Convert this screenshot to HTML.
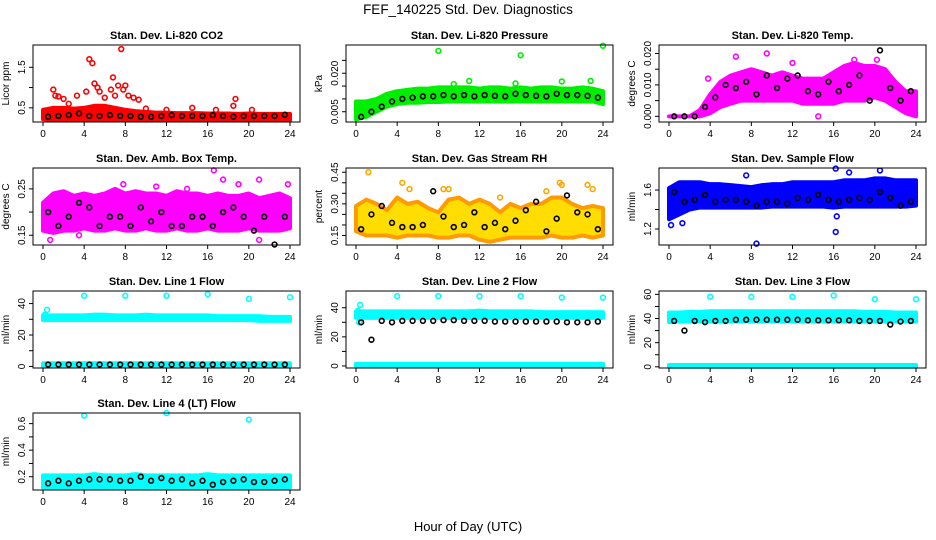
<!DOCTYPE html>
<html><head><meta charset="utf-8"><style>
html,body{margin:0;padding:0;background:#fff;}
svg{display:block;font-family:"Liberation Sans",Arial,sans-serif;}
</style></head><body>
<svg id="chart" width="936" height="540" viewBox="0 0 936 540">
<text x="468" y="14" text-anchor="middle" font-size="13.5">FEF_140225  Std. Dev. Diagnostics</text>
<text x="468" y="531" text-anchor="middle" font-size="13">Hour of Day (UTC)</text>
</svg>
<script>
const bandHours=[0,1,2,3,4,5,6,7,8,9,10,11,12,13,14,15,16,17,18,19,20,21,22,23,24];
const blackHours=[0.5,1.5,2.5,3.5,4.5,5.5,6.5,7.5,8.5,9.5,10.5,11.5,12.5,13.5,14.5,15.5,16.5,17.5,18.5,19.5,20.5,21.5,22.5,23.5];
const xTicks=[0,4,8,12,16,20,24];

const co2Lo=[0.22,0.2,0.2,0.2,0.2,0.2,0.2,0.2,0.2,0.2,0.2,0.2,0.2,0.2,0.2,0.2,0.2,0.2,0.2,0.2,0.2,0.2,0.2,0.2,0.2];
const co2Hi=[0.45,0.5,0.5,0.48,0.5,0.55,0.55,0.5,0.45,0.42,0.4,0.38,0.38,0.37,0.37,0.37,0.36,0.36,0.36,0.35,0.36,0.35,0.35,0.35,0.35];
const co2Black=[0.28,0.3,0.32,0.36,0.3,0.3,0.32,0.3,0.3,0.28,0.28,0.3,0.32,0.3,0.3,0.3,0.32,0.3,0.28,0.3,0.3,0.3,0.3,0.33];
const co2Out=[[1,0.95],[1.2,0.8],[1.5,0.78],[2,0.72],[2.5,0.6],[3.3,0.8],[4.2,0.9],[4.5,1.7],[4.8,1.6],[5,1.1],[5.3,1.0],[5.5,0.9],[6,0.75],[6.6,0.95],[6.8,1.25],[7,0.8],[7.3,1.05],[7.6,1.95],[7.8,0.95],[8,1.05],[8.3,0.8],[8.8,0.75],[9.3,0.7],[10,0.48],[12,0.45],[14.5,0.5],[16.8,0.45],[18.5,0.55],[18.7,0.72],[20.3,0.45]];

const presLo=[0.002,0.003,0.005,0.007,0.008,0.0085,0.0085,0.0088,0.0088,0.009,0.009,0.009,0.009,0.009,0.009,0.009,0.009,0.009,0.009,0.009,0.009,0.009,0.009,0.009,0.008];
const presHi=[0.009,0.009,0.010,0.012,0.013,0.0135,0.014,0.014,0.0145,0.0145,0.0145,0.0145,0.014,0.0145,0.0145,0.014,0.0145,0.014,0.0145,0.0145,0.014,0.014,0.0145,0.014,0.013];
const presBlack=[0.003,0.005,0.007,0.009,0.010,0.0105,0.011,0.011,0.0115,0.011,0.0115,0.011,0.0115,0.0112,0.011,0.012,0.0115,0.0112,0.011,0.012,0.0115,0.0115,0.0112,0.0105];
const presOut=[[8,0.0287],[16,0.027],[24,0.0307],[11,0.017],[20,0.0168],[22.8,0.017],[15.5,0.016],[9.5,0.0158]];

const tempLo=[0,0,0,0,0.001,0.003,0.004,0.005,0.005,0.005,0.005,0.005,0.005,0.004,0.004,0.004,0.004,0.005,0.005,0.005,0.006,0.005,0.003,0.001,0];
const tempHi=[0,0,0,0.002,0.007,0.011,0.013,0.014,0.015,0.014,0.013,0.014,0.013,0.012,0.012,0.012,0.014,0.016,0.017,0.016,0.016,0.015,0.011,0.008,0.008];
const tempBlack=[0,0,0,0.003,0.006,0.01,0.009,0.011,0.007,0.013,0.009,0.012,0.013,0.008,0.007,0.011,0.008,0.01,0.013,0.005,0.021,0.009,0.005,0.008];
const tempOut=[[6.5,0.019],[9.5,0.02],[12,0.017],[18,0.018],[20.2,0.018],[3.8,0.012],[14.5,0]];

const ambLo=[0.16,0.155,0.16,0.16,0.165,0.16,0.16,0.165,0.16,0.16,0.165,0.16,0.16,0.165,0.16,0.16,0.165,0.16,0.16,0.16,0.165,0.16,0.16,0.16,0.165];
const ambHi=[0.22,0.24,0.245,0.235,0.24,0.235,0.24,0.25,0.24,0.245,0.24,0.24,0.235,0.245,0.24,0.24,0.235,0.24,0.235,0.235,0.24,0.23,0.235,0.24,0.23];
const ambBlack=[0.20,0.17,0.19,0.22,0.21,0.17,0.19,0.19,0.17,0.21,0.18,0.2,0.17,0.17,0.19,0.19,0.17,0.2,0.21,0.19,0.16,0.19,0.13,0.19];
const ambOut=[[0.7,0.14],[3.5,0.15],[7.8,0.26],[11,0.255],[14,0.25],[16.6,0.29],[17.5,0.27],[21,0.27],[23.8,0.26],[19,0.26],[21,0.14]];

const rhLo=[0.17,0.15,0.15,0.15,0.14,0.15,0.15,0.15,0.14,0.14,0.15,0.15,0.13,0.12,0.13,0.14,0.14,0.14,0.14,0.15,0.14,0.14,0.15,0.14,0.15];
const rhHi=[0.29,0.32,0.3,0.27,0.33,0.3,0.31,0.28,0.26,0.32,0.33,0.3,0.32,0.3,0.26,0.3,0.28,0.3,0.3,0.33,0.33,0.3,0.28,0.29,0.28];
const rhBlack=[0.18,0.25,0.29,0.21,0.19,0.19,0.2,0.36,0.24,0.19,0.2,0.26,0.19,0.21,0.18,0.22,0.27,0.31,0.17,0.23,0.34,0.26,0.25,0.18];
const rhOut=[[1.2,0.45],[4.5,0.4],[5.2,0.37],[8.5,0.37],[9,0.37],[14,0.33],[18.5,0.36],[19.8,0.4],[20,0.39],[22.5,0.39],[23,0.37]];

const flowLo=[1.3,1.35,1.4,1.42,1.42,1.42,1.42,1.42,1.42,1.42,1.43,1.43,1.43,1.43,1.43,1.43,1.42,1.43,1.43,1.43,1.43,1.43,1.43,1.43,1.44];
const flowHi=[1.62,1.68,1.68,1.68,1.66,1.66,1.65,1.64,1.63,1.65,1.66,1.66,1.68,1.68,1.68,1.68,1.68,1.7,1.7,1.7,1.72,1.72,1.7,1.7,1.7];
const flowBlack=[1.58,1.48,1.5,1.55,1.48,1.5,1.5,1.48,1.44,1.48,1.48,1.46,1.52,1.5,1.55,1.5,1.48,1.5,1.52,1.5,1.58,1.52,1.44,1.48];
const flowOut=[[8.5,1.05],[16.2,1.17],[16.3,1.33],[16.2,1.82],[20.5,1.8],[0.2,1.24],[1.3,1.26],[7.5,1.75],[17.5,1.78]];

const l1Lo=[29.5,29.5,29.5,29.5,29.5,29.5,29.5,29.5,29.5,29.5,29.5,29.5,29.5,29.5,29.5,29.5,29.5,29.5,29.5,29.5,29.5,29,29,29,29];
const l1Hi=[32.5,32.5,32.5,32.5,32.5,33,33,32.5,32.5,32.5,33,32.5,32.5,32.5,32.5,32.5,32.5,32,32,32,32,32,31.5,31.5,31.5];
const l1BaseLo=[0,0,0,0,0,0,0,0,0,0,0,0,0,0,0,0,0,0,0,0,0,0,0,0,0];
const l1BaseHi=[2,2,2,2,2,2,2,2,2,2,2,2,2,2,2,2,2,2,2,2,2,2,2,2,2];
const l1Black=[1.2,1.2,1.2,1.2,1.2,1.2,1.2,1.2,1.2,1.2,1.2,1.2,1.2,1.2,1.2,1.2,1.2,1.2,1.2,1.2,1.2,1.2,1.2,1.2];
const l1Out=[[0.2,33],[0.4,36],[4,45],[8,45],[12,45],[16,46],[20,43],[24,44]];

const l2Lo=[33,33,33,33,33,33,33,33,33,33,33,33,33,33,33,33,33,33,33,33,33,33,33,33,33];
const l2Hi=[37.5,37.5,37.5,37.5,37.5,37.5,37.5,37.5,37.5,37.5,37.5,37.5,38,37.5,37.5,37.5,37.5,37.5,37,37,37,37,37,37,37];
const l2BaseLo=[0,0,0,0,0,0,0,0,0,0,0,0,0,0,0,0,0,0,0,0,0,0,0,0,0];
const l2BaseHi=[1.5,1.5,1.5,1.5,1.5,1.5,1.5,1.5,1.5,1.5,1.5,1.5,1.5,1.5,1.5,1.5,1.5,1.5,1.5,1.5,1.5,1.5,1.5,1.5,1.5];
const l2Black=[30,18,31,30,31,31,31,31,31.5,31.5,31,31,31,30.5,30.5,30.5,30.5,30.5,30.5,30.5,30,30,30,30.5];
const l2Out=[[0.2,38],[0.4,42],[0.3,30],[4,48],[8,48],[12,48],[16,48],[20,47],[24,47]];

const l3Lo=[37,37.5,37.5,37.5,37.5,37.5,37.5,37.5,37.5,37.5,37.5,37.5,37.5,37.5,37.5,37.5,37.5,37.5,37.5,37.5,37.5,37.5,37.5,37.5,37.5];
const l3Hi=[45,45,45.5,45.5,46,46,46,46,46,46,46,46,46,46,46,46,46,46,46,45.5,45.5,45.5,45,45,45];
const l3BaseLo=[0,0,0,0,0,0,0,0,0,0,0,0,0,0,0,0,0,0,0,0,0,0,0,0,0];
const l3BaseHi=[1.5,1.5,1.5,1.5,1.5,1.5,1.5,1.5,1.5,1.5,1.5,1.5,1.5,1.5,1.5,1.5,1.5,1.5,1.5,1.5,1.5,1.5,1.5,1.5,1.5];
const l3Black=[38,30,38,37,38,38,39,39,39,39,39,39,39,38.5,38.5,38.5,38.5,38.5,38,38,38,35,37.5,38];
const l3Out=[[4,58],[8,58],[12,58],[16,59],[20,56],[24,56]];

const l4Lo=[0.12,0.12,0.12,0.12,0.12,0.12,0.12,0.12,0.12,0.12,0.12,0.12,0.12,0.12,0.12,0.12,0.12,0.12,0.12,0.12,0.12,0.12,0.12,0.12,0.12];
const l4Hi=[0.21,0.21,0.21,0.21,0.21,0.22,0.21,0.21,0.21,0.22,0.21,0.21,0.21,0.21,0.21,0.21,0.22,0.21,0.21,0.21,0.21,0.21,0.21,0.21,0.21];
const l4Black=[0.15,0.17,0.15,0.17,0.18,0.18,0.18,0.17,0.17,0.2,0.17,0.19,0.17,0.18,0.15,0.17,0.14,0.16,0.17,0.18,0.16,0.16,0.17,0.18];
const l4Out=[[4,0.66],[12,0.68],[20,0.63]];

const NS='http://www.w3.org/2000/svg';
const svg=document.getElementById('chart');
function mk(tag,attrs,parent){const e=document.createElementNS(NS,tag);for(const k in attrs)e.setAttribute(k,attrs[k]);(parent||svg).appendChild(e);return e;}

const colX=[33,346,659], rowY=[45,168,291,413], W=267, H=77;
const panels=[
 {key:'co2',title:'Stan. Dev. Li-820 CO2',ylab:'Licor ppm',c:0,r:0,ylim:[0.15,2.05],ticks:[0.5,1,1.5],labels:['0.5','','1.5'],col:'#ff0000',bands:[[co2Lo,co2Hi]],black:co2Black,out:co2Out},
 {key:'pressure',title:'Stan. Dev. Li-820 Pressure',ylab:'kPa',c:1,r:0,ylim:[0.001,0.031],ticks:[0.005,0.01,0.015,0.02,0.025],labels:['0.005','','','0.020',''],col:'#00ee00',bands:[[presLo,presHi]],black:presBlack,out:presOut},
 {key:'temp',title:'Stan. Dev. Li-820 Temp.',ylab:'degrees C',c:2,r:0,ylim:[-0.0018,0.0227],ticks:[0,0.005,0.01,0.015,0.02],labels:['0.000','','0.010','','0.020'],col:'#ff00ff',bands:[[tempLo,tempHi]],black:tempBlack,out:tempOut},
 {key:'amb',title:'Stan. Dev. Amb. Box Temp.',ylab:'degrees C',c:0,r:1,ylim:[0.129,0.295],ticks:[0.15,0.2,0.25],labels:['0.15','','0.25'],col:'#ff00ff',bands:[[ambLo,ambHi]],black:ambBlack,out:ambOut},
 {key:'rh',title:'Stan. Dev. Gas Stream RH',ylab:'percent',c:1,r:1,ylim:[0.105,0.47],ticks:[0.15,0.2,0.25,0.3,0.35,0.4,0.45],labels:['0.15','','','0.30','','','0.45'],col:'#ffa500',bands:[[rhLo,rhHi]],black:rhBlack,out:rhOut},
 {key:'sampleflow',title:'Stan. Dev. Sample Flow',ylab:'ml/min',c:2,r:1,ylim:[1.036,1.826],ticks:[1.2,1.4,1.6],labels:['1.2','','1.6'],col:'#0000ff',bands:[[flowLo,flowHi]],black:flowBlack,out:flowOut},
 {key:'line1',title:'Stan. Dev. Line 1 Flow',ylab:'ml/min',c:0,r:2,ylim:[-1,48],ticks:[0,10,20,30,40],labels:['0','','20','','40'],col:'#00ffff',bands:[[l1Lo,l1Hi],[l1BaseLo,l1BaseHi]],black:l1Black,out:l1Out},
 {key:'line2',title:'Stan. Dev. Line 2 Flow',ylab:'ml/min',c:1,r:2,ylim:[-1.4,51.5],ticks:[0,10,20,30,40],labels:['0','','20','','40'],col:'#00ffff',bands:[[l2Lo,l2Hi],[l2BaseLo,l2BaseHi]],black:l2Black,out:l2Out},
 {key:'line3',title:'Stan. Dev. Line 3 Flow',ylab:'ml/min',c:2,r:2,ylim:[-1,62.8],ticks:[0,10,20,30,40,50,60],labels:['0','','20','','40','','60'],col:'#00ffff',bands:[[l3Lo,l3Hi],[l3BaseLo,l3BaseHi]],black:l3Black,out:l3Out},
 {key:'line4',title:'Stan. Dev. Line 4 (LT) Flow',ylab:'ml/min',c:0,r:3,ylim:[0.1,0.68],ticks:[0.2,0.3,0.4,0.5,0.6],labels:['0.2','','0.4','','0.6'],col:'#00ffff',bands:[[l4Lo,l4Hi]],black:l4Black,out:l4Out}
];

panels.forEach(p=>{
  const L=colX[p.c], T=rowY[p.r];
  const g=mk('g',{});
  
  
  const xs=h=>L+10+h*(W-20)/24;
  const ys=v=>T+H-(v-p.ylim[0])/(p.ylim[1]-p.ylim[0])*H;
  const t=mk('text',{x:L+W/2,y:T-6,'text-anchor':'middle','font-size':'11','font-weight':'bold'},g);
  t.textContent=p.title;
  
  
  const yl=mk('text',{x:0,y:0,'text-anchor':'middle','font-size':'10',transform:`translate(${L-24},${T+H/2}) rotate(-90)`},g);
  yl.textContent=p.ylab;
  
  
  p.bands.forEach(b=>{
    const lo=b[0], hi=b[1];
    let d='M'+bandHours.map((h,i)=>xs(h)+','+ys(hi[i])).join('L');
    d+='L'+bandHours.slice().reverse().map((h,j)=>{const i=bandHours.length-1-j;return xs(h)+','+ys(lo[i]);}).join('L')+'Z';
    const path=mk('path',{d:d,fill:p.col,stroke:p.col,'stroke-width':'4','stroke-linejoin':'round'},g);
    
    
    if(p.key==='rh'){path.setAttribute('fill','#ffdd00');path.setAttribute('stroke','#ff9a00');}
  });
  p.out.forEach(o=>{
    const c=mk('circle',{cx:xs(o[0]),cy:ys(o[1]),r:2.4,fill:'none',stroke:p.col,'stroke-width':'1.6'},g);
    
    
  });
  p.black.forEach((v,i)=>{
    const c=mk('circle',{cx:xs(blackHours[i]),cy:ys(v),r:2.4,fill:'none',stroke:'#000','stroke-width':'1.6'},g);
    
    
  });
  const box=mk('rect',{x:L,y:T,width:W,height:H,fill:'none',stroke:'#000','stroke-width':'1'},g);
  
  
  xTicks.forEach(h=>{
    mk('line',{x1:xs(h),x2:xs(h),y1:T+H,y2:T+H+4,stroke:'#000'},g);
    const tl=mk('text',{x:xs(h),y:T+H+15,'text-anchor':'middle','font-size':'10'},g);
    tl.textContent=h;
    
    
  });
  p.ticks.forEach((v,i)=>{
    mk('line',{x1:L-4,x2:L,y1:ys(v),y2:ys(v),stroke:'#000'},g);
    if(p.labels[i]){
      const tl=mk('text',{x:0,y:0,'text-anchor':'middle','font-size':'10',transform:`translate(${L-8},${ys(v)}) rotate(-90)`},g);
      tl.textContent=p.labels[i];
      
      
    }
  });
});
</script>
</body></html>
